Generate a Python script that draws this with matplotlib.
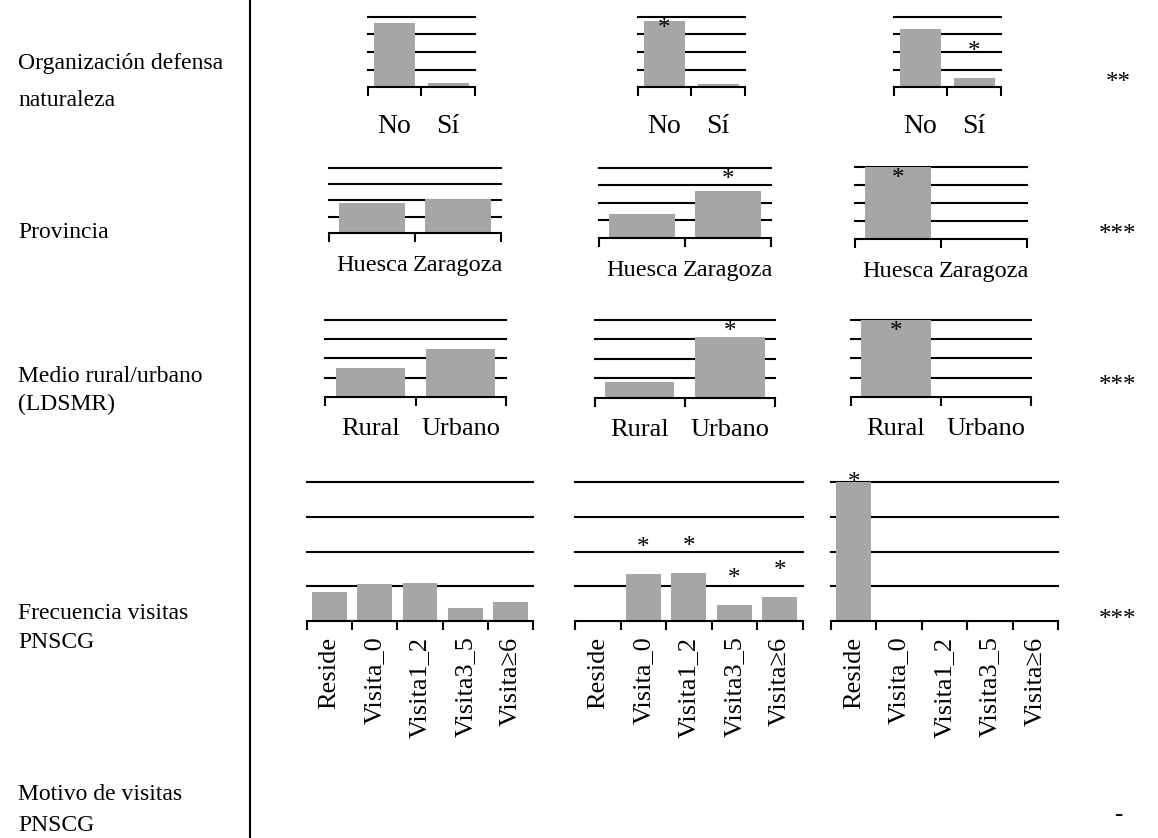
import matplotlib.pyplot as plt
from matplotlib.lines import Line2D
import numpy as np

plt.rcParams['font.family'] = ['Liberation Serif', 'DejaVu Serif']
plt.rcParams['font.size'] = 17

W, H = 1158, 838

# Row headings (one entry per printed line) and overall significance
row_labels = [['Organización defensa', 'naturaleza'], ['Provincia'],
              ['Medio rural/urbano', '(LDSMR)'], ['Frecuencia visitas', 'PNSCG'],
              ['Motivo de visitas', 'PNSCG']]
row_sig = ['**', '***', '***', '***', '-']

# Percentages per group (three groups per variable)
org_cats = ['No', 'Sí']
org_vals = [[91.5, 6.5], [93.5, 4.5], [83, 12.5]]
org_stars = [[False, False], [True, False], [False, True]]

prov_cats = ['Huesca', 'Zaragoza']
prov_vals = [[46.5, 52.5], [33.5, 66.5], [100, 0]]
prov_stars = [[False, False], [False, True], [True, False]]

medio_cats = ['Rural', 'Urbano']
medio_vals = [[37, 62], [20, 78], [100, 0]]
medio_stars = [[False, False], [False, True], [True, False]]

visit_cats = ['Reside', 'Visita_0', 'Visita1_2', 'Visita3_5', 'Visita≥6']
visit_vals = [[21, 27, 27.5, 9.5, 14], [0.5, 34, 34.5, 12, 17.5],
              [100, 0, 0, 0, 0]]
visit_stars = [[False] * 5, [False, True, True, True, True],
               [True, False, False, False, False]]

# panel boxes in pixels: (left, right, top, bottom)
boxes = [
    [(367.7, 475, 16.7, 87.3), (637.7, 745, 16.7, 87.3), (893.7, 1001, 16.7, 87.3)],
    [(329.3, 501, 167.7, 233), (599.3, 770.7, 167.7, 237.7), (854.7, 1027.3, 167.3, 238.7)],
    [(325.3, 505.7, 320, 396.7), (594.7, 775, 320, 397.7), (851, 1031, 320, 396.7)],
    [(306.7, 533.3, 482, 621.3), (575, 802.7, 482, 621.3), (831, 1058.3, 482, 621.3)],
]

fig = plt.figure(figsize=(W / 100, H / 100), dpi=100)


def draw_panel(box, cats, vals, stars, rot, pad, fsize, headroom):
    x0, x1, y0, y1 = box
    ax = fig.add_axes([x0 / W, 1 - y1 / H, (x1 - x0) / W, (y1 - y0) / H])
    n = len(cats)
    idx = np.arange(n)
    ax.bar(idx, vals, width=0.77, color='#a6a6a6', zorder=2)
    ax.set_xlim(-0.5, n - 0.5)
    ax.set_ylim(0, 100)
    ax.set_yticks([25, 50, 75, 100])
    ax.yaxis.grid(True, color='black', lw=1.5)
    for gl in ax.get_ygridlines():
        gl.set_clip_on(False)
    ax.set_axisbelow(True)
    ax.tick_params(axis='y', length=0, labelleft=False)
    for s in ['top', 'right', 'left']:
        ax.spines[s].set_visible(False)
    ax.spines['bottom'].set_linewidth(1.5)
    ax.spines['bottom'].set_zorder(3)
    ax.set_xticks(idx)
    ax.set_xticklabels(cats, rotation=rot, fontsize=fsize)
    ax.set_xticks(np.arange(n + 1) - 0.5, minor=True)
    ax.tick_params(axis='x', which='major', length=0, pad=pad)
    ax.tick_params(axis='x', which='minor', length=6.3, width=1.5,
                   direction='out')
    ppu = (y1 - y0) / 100.0
    for i, (v, s) in enumerate(zip(vals, stars)):
        if s:
            off = min(30, (100 - v) * ppu - headroom) - 4
            ax.annotate('*', xy=(i, v), xytext=(0, off),
                        textcoords='offset pixels', ha='center',
                        va='center', fontsize=18, zorder=4)
    return ax


rows = [
    (org_cats, org_vals, org_stars, 0, 19, 20, 8),
    (prov_cats, prov_vals, prov_stars, 0, 16, 17.5, 8),
    (medio_cats, medio_vals, medio_stars, 0, 15, 19, 8),
    (visit_cats, visit_vals, visit_stars, 90, 11, 19, -3),
]
for r, (cats, vals, stars, rot, pad, fs, head) in enumerate(rows):
    for p in range(3):
        draw_panel(boxes[r][p], cats, vals[p], stars[p], rot, pad, fs, head)

# Row headings, separator and significance column
line_y = [[63, 100], [232], [376, 404], [613, 642], [794, 825]]
sig_y = [83, 235, 386, 620, 815]
for lines, ys, sig, sy in zip(row_labels, line_y, row_sig, sig_y):
    for txt, y in zip(lines, ys):
        fig.text(18 / W, 1 - y / H, txt, ha='left', va='center', fontsize=17)
    fig.text(1118 / W, 1 - sy / H, sig, ha='center', va='center', fontsize=18)

fig.add_artist(Line2D([250 / W, 250 / W], [0, 1], color='black', lw=1.5))

fig.savefig('out.png', dpi=100)
